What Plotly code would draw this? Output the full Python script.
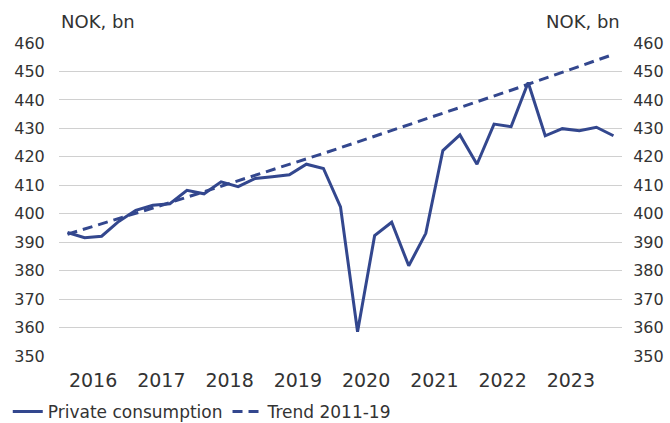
import plotly.graph_objects as go

# quarterly data, 2016Q1 - 2024Q1
quarters = [f"{y}Q{q}" for y in range(2016, 2024) for q in range(1, 5)] + ["2024Q1"]
years = list(range(2016, 2024))

private_consumption = [
    393.4, 391.6, 392.1, 397.3, 401.2, 403.0, 403.5, 408.2,
    407.0, 411.2, 409.5, 412.4, 413.0, 413.7, 417.4, 415.9,
    402.4, 358.5, 392.3, 397.0, 381.7, 393.1, 422.2, 427.7,
    417.4, 431.5, 430.6, 446.1, 427.4, 429.9, 429.2, 430.4,
    427.4,
]
trend_2011_19 = [
    392.8, 394.6, 396.5, 398.3, 400.2, 402.0, 403.9, 405.8,
    407.7, 409.6, 411.5, 413.4, 415.4, 417.3, 419.3, 421.2,
    423.2, 425.2, 427.2, 429.2, 431.2, 433.2, 435.2, 437.2,
    439.3, 441.3, 443.4, 445.5, 447.6, 449.7, 451.8, 453.9,
    456.0,
]

color = "#33478e"
font = "DejaVu Sans"
text_color = "#333333"

x = list(range(len(quarters)))
# year labels centred on each year's four quarters
year_pos = [quarters.index(f"{y}Q1") + 1.5 for y in years]

fig = go.Figure()

fig.add_trace(
    go.Scatter(
        x=x,
        y=private_consumption,
        mode="lines",
        name="Private consumption",
        line=dict(color=color, width=3),
    )
)

fig.add_trace(
    go.Scatter(
        x=x,
        y=trend_2011_19,
        mode="lines",
        name="Trend 2011-19",
        yaxis="y2",
        line=dict(color=color, width=3, dash="10px,6px"),
    )
)

yrange = [350, 460]
yticks = list(range(350, 461, 10))

fig.update_layout(
    width=670,
    height=423,
    margin=dict(l=59, r=48, t=43, b=67, autoexpand=False),
    paper_bgcolor="white",
    plot_bgcolor="white",
    font=dict(family=font, color=text_color, size=16),
    xaxis=dict(
        range=[-0.5, len(x) - 0.5],
        tickvals=year_pos,
        ticktext=[str(y) for y in years],
        tickfont=dict(size=19),
        ticks="outside",
        ticklen=7,
        tickcolor="rgba(0,0,0,0)",
        showgrid=False,
        zeroline=False,
        showline=False,
        automargin=False,
    ),
    yaxis=dict(
        range=yrange,
        tickvals=yticks,
        tickfont=dict(size=16),
        showgrid=True,
        gridcolor="#d0d0d0",
        gridwidth=1,
        zeroline=False,
        ticks="outside",
        ticklen=10,
        tickcolor="rgba(0,0,0,0)",
        automargin=False,
    ),
    yaxis2=dict(
        range=yrange,
        tickvals=yticks,
        tickfont=dict(size=16),
        overlaying="y",
        side="right",
        showgrid=False,
        zeroline=False,
        ticks="outside",
        ticklen=7,
        tickcolor="rgba(0,0,0,0)",
        automargin=False,
    ),
    legend=dict(
        orientation="h",
        x=-0.091,
        xanchor="left",
        y=-0.179,
        yanchor="middle",
        font=dict(size=17),
        itemwidth=30,
        tracegroupgap=0,
    ),
    showlegend=True,
)

fig.add_annotation(
    text="NOK, bn", xref="paper", yref="paper", x=0, y=1.0,
    xanchor="left", yanchor="bottom", yshift=9, showarrow=False,
    font=dict(size=18, color=text_color),
)
fig.add_annotation(
    text="NOK, bn", xref="paper", yref="paper", x=1, y=1.0,
    xanchor="right", yanchor="bottom", yshift=9, showarrow=False,
    font=dict(size=18, color=text_color),
)

# drop the default body margin so the figure fills the window exactly
fig.write_html(
    "out.html",
    config={"displayModeBar": False},
    post_script="document.body.style.margin = '0';",
)
